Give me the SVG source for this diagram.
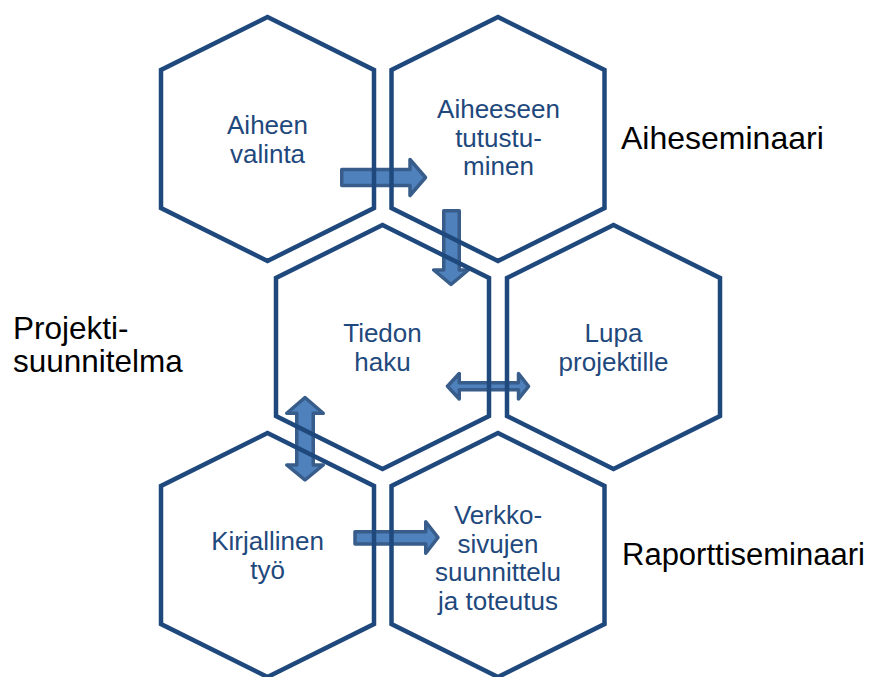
<svg xmlns="http://www.w3.org/2000/svg" width="875" height="677" viewBox="0 0 875 677">
<defs>
<style>
.hex{fill:none;stroke:#1F497D;stroke-width:4.5;stroke-linejoin:miter}
.arr{fill:#4F81BD;stroke:#385D8A;stroke-width:3.5;stroke-linejoin:round}
.ht{font-family:"Liberation Sans",Arial,sans-serif;font-size:26px;fill:#1F497D;text-anchor:middle}
.st{font-family:"Liberation Sans",Arial,sans-serif;font-size:31.5px;fill:#000000}
</style>
</defs>
<rect width="875" height="677" fill="#FFFFFF"/>
<g id="connectors">
<path class="arr" d="M341.75,169.5 H410 V159.5 L425.5,177.5 L410,195.5 V185.5 H341.75 Z"/>
<path class="arr" d="M443.75,210.75 H459.25 V270 H468.25 L451,284.5 L433.75,270 H443.75 Z"/>
<path class="arr" d="M447.5,386.3 L459.25,373.5 V382.8 H518.5 V373.5 L528.5,386.3 L518.5,399 V389.8 H459.25 V399 Z"/>
<path class="arr" d="M305,397.5 L323.25,413.25 H313.25 V465 H323.25 L305,480 L286.75,465 H296.75 V413.25 H286.75 Z"/>
<path class="arr" d="M355,531.75 H425.75 V521.75 L438,537.5 L425.75,553.25 V544 H355 Z"/>
</g>
<g id="n1">
<polygon class="hex" points="267.5,17 374,70 374,208 267.5,261 161,208 161,70"/>
<text class="ht" x="267.5" y="133.5">Aiheen</text>
<text class="ht" x="267.5" y="162.5">valinta</text>
</g>
<g id="n2">
<polygon class="hex" points="498,17 604.5,70 604.5,208 498,261 391.5,208 391.5,70"/>
<text class="ht" x="498.5" y="118">Aiheeseen</text>
<text class="ht" x="498.5" y="146.5">tutustu-</text>
<text class="ht" x="498.5" y="175">minen</text>
</g>
<g id="n3">
<polygon class="hex" points="382.5,225 489,278 489,416 382.5,469 276,416 276,278"/>
<text class="ht" x="382.5" y="341.5">Tiedon</text>
<text class="ht" x="382.5" y="370.5">haku</text>
</g>
<g id="n4">
<polygon class="hex" points="613.5,225 720,278 720,416 613.5,469 507,416 507,278"/>
<text class="ht" x="613.5" y="341.5">Lupa</text>
<text class="ht" x="613.5" y="370.5">projektille</text>
</g>
<g id="n5">
<polygon class="hex" points="267.5,433 374,486 374,624 267.5,677 161,624 161,486"/>
<text class="ht" x="267.5" y="550">Kirjallinen</text>
<text class="ht" x="267.5" y="579">työ</text>
</g>
<g id="n6">
<polygon class="hex" points="498,433 604.5,486 604.5,624 498,677 391.5,624 391.5,486"/>
<text class="ht" x="498" y="524">Verkko-</text>
<text class="ht" x="498" y="552.5">sivujen</text>
<text class="ht" x="498" y="581">suunnittelu</text>
<text class="ht" x="498" y="609.5">ja toteutus</text>
</g>
<g id="labels">
<text class="st" x="621" y="149" style="font-size:32px">Aiheseminaari</text>
<text class="st"><tspan x="13" y="339">Projekti-</tspan><tspan x="13" y="372">suunnitelma</tspan></text>
<text class="st" x="622" y="565" style="font-size:31px">Raporttiseminaari</text>
</g>
</svg>
